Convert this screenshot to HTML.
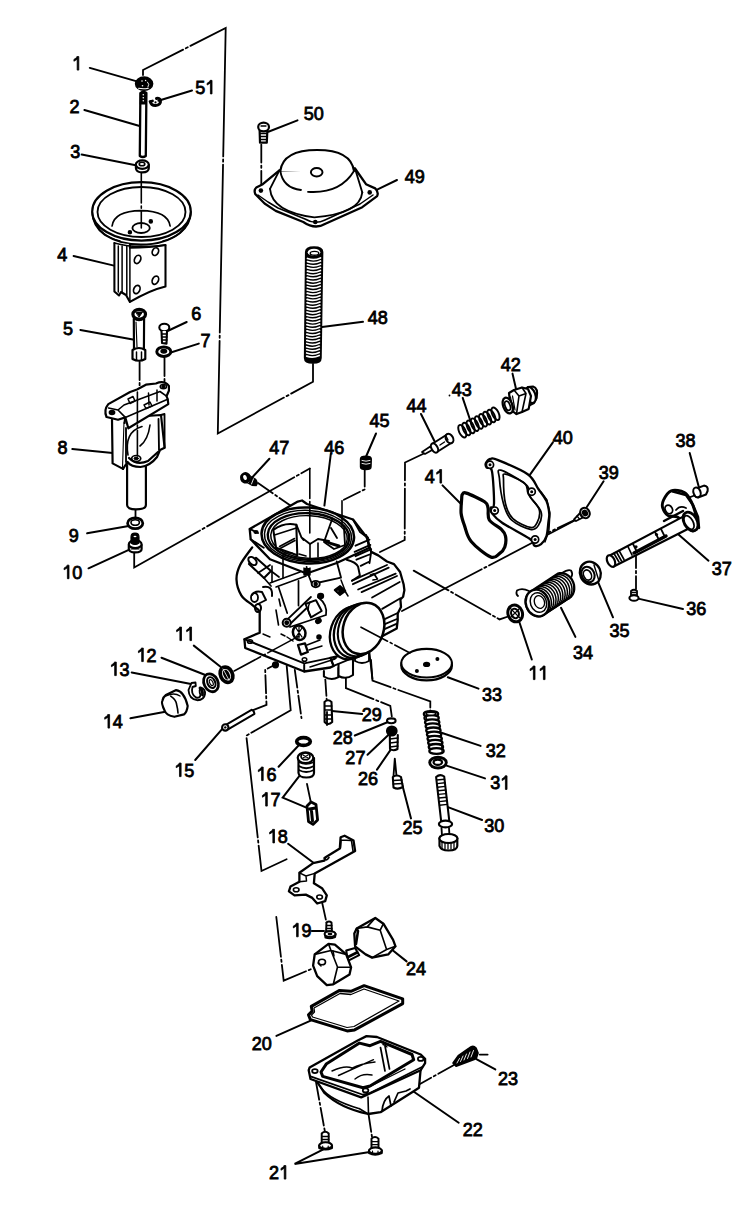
<!DOCTYPE html>
<html><head><meta charset="utf-8"><style>
html,body{margin:0;padding:0;background:#fff;}
svg{display:block;}
text{font-family:"Liberation Sans",sans-serif;font-size:18.9px;fill:#000;stroke:#000;stroke-width:0.85px;}
</style></head><body>
<svg width="743" height="1207" viewBox="0 0 743 1207" stroke-linecap="round">
<rect width="743" height="1207" fill="#fff"/>
<path d="M143.0,75.0 L143.0,70.0 L225.7,28.0 L217.8,433.5 L313.0,381.8 L313.0,364.0" fill="none" stroke="#000" stroke-width="1.8" stroke-dasharray="168 3 2.2 3"  stroke-dashoffset="118"/>
<path d="M134.2,553.0 L134.2,567.5 L309.8,468.5" fill="none" stroke="#000" stroke-width="1.8" stroke-dasharray="100 3 2.2 3"  stroke-dashoffset="10"/>
<path d="M364.7,468.5 L364.7,489.4 L342.0,500.7" fill="none" stroke="#000" stroke-width="1.8" stroke-dasharray="18 3 2.2 3" />
<path d="M425.0,453.0 L405.0,462.5 L404.7,540.0 L380.0,552.0" fill="none" stroke="#000" stroke-width="1.8" stroke-dasharray="40 3 2.2 3" />
<path d="M402.0,611.0 L585.3,515.0" fill="none" stroke="#000" stroke-width="1.8" stroke-dasharray="100 3 2.2 3"  stroke-dashoffset="10"/>
<path d="M413.7,570.6 L499.5,619.4 L509.6,616.0" fill="none" stroke="#000" stroke-width="1.8" stroke-dasharray="40 3 2.2 3" />
<path d="M371.0,660.0 L372.5,680.7 L430.3,701.5 L430.3,711.8" fill="none" stroke="#000" stroke-width="1.8" stroke-dasharray="40 3 2.2 3" />
<path d="M345.9,677.8 L345.9,688.1 L390.3,705.9 L391.8,716.3" fill="none" stroke="#000" stroke-width="1.8" stroke-dasharray="40 3 2.2 3" />
<path d="M325.2,677.8 L326.7,700.0" fill="none" stroke="#000" stroke-width="1.8" stroke-dasharray="18 3 2.2 3" />
<path d="M253.0,710.2 L266.5,704.8 L265.2,669.8 L273.0,665.8" fill="none" stroke="#000" stroke-width="1.8" stroke-dasharray="18 3 2.2 3" />
<path d="M286.7,665.8 L290.7,710.2 L246.3,735.7 L261.5,871.0 L286.6,859.2" fill="none" stroke="#000" stroke-width="1.8" stroke-dasharray="100 3 2.2 3"  stroke-dashoffset="10"/>
<path d="M294.8,669.8 L301.5,718.2" fill="none" stroke="#000" stroke-width="1.8" stroke-dasharray="18 3 2.2 3" />
<path d="M307.0,784.0 L311.0,803.0" fill="none" stroke="#000" stroke-width="1.8" stroke-dasharray="18 3 2.2 3" />
<path d="M276.3,917.0 L283.7,980.6 L311.8,968.8" fill="none" stroke="#000" stroke-width="1.8" stroke-dasharray="40 3 2.2 3" />
<path d="M322.0,902.0 L326.6,922.9" fill="none" stroke="#000" stroke-width="1.8" stroke-dasharray="18 3 2.2 3" />
<path d="M258.0,483.0 L290.4,505.6" fill="none" stroke="#000" stroke-width="1.8" stroke-dasharray="18 3 2.2 3" />
<path d="M261.3,144.6 L261.3,186.6" fill="none" stroke="#000" stroke-width="1.8" stroke-dasharray="18 3 2.2 3" />
<path d="M139.6,362.0 L139.6,395.0" fill="none" stroke="#000" stroke-width="1.8" stroke-dasharray="18 3 2.2 3" />
<path d="M164.5,358.0 L164.5,385.0" fill="none" stroke="#000" stroke-width="1.8" stroke-dasharray="18 3 2.2 3" />
<path d="M636.0,550.0 L636.0,589.0" fill="none" stroke="#000" stroke-width="1.8" stroke-dasharray="18 3 2.2 3" />
<path d="M574.0,520.4 L548.4,532.5" fill="none" stroke="#000" stroke-width="1.8" stroke-dasharray="18 3 2.2 3" />
<path d="M454.0,1065.0 L420.0,1084.0" fill="none" stroke="#000" stroke-width="1.8" stroke-dasharray="18 3 2.2 3" />
<path d="M316.0,1082.0 L324.9,1131.6" fill="none" stroke="#000" stroke-width="1.8" stroke-dasharray="18 3 2.2 3" />
<path d="M368.5,1114.0 L372.1,1137.6" fill="none" stroke="#000" stroke-width="1.8" stroke-dasharray="18 3 2.2 3" />
<path d="M135.5,509.0 L135.5,518.0" fill="none" stroke="#000" stroke-width="1.8" stroke-dasharray="18 3 2.2 3" />
<path d="M688.2,497.8 L694.4,495.5" fill="none" stroke="#000" stroke-width="1.8" stroke-dasharray="18 3 2.2 3" />
<path d="M89.8,67.9 L136.9,81.4" fill="none" stroke="#000" stroke-width="2.0" />
<path d="M192.0,90.5 L158.4,100.8" fill="none" stroke="#000" stroke-width="2.0" />
<path d="M84.4,110.0 L139.6,126.0" fill="none" stroke="#000" stroke-width="2.0" />
<path d="M81.7,154.6 L137.0,165.4" fill="none" stroke="#000" stroke-width="2.0" />
<path d="M73.6,256.0 L114.0,265.6" fill="none" stroke="#000" stroke-width="2.0" />
<path d="M80.4,330.0 L132.9,339.6" fill="none" stroke="#000" stroke-width="2.0" />
<path d="M186.7,322.0 L166.5,331.5" fill="none" stroke="#000" stroke-width="2.0" />
<path d="M198.8,343.6 L169.2,353.0" fill="none" stroke="#000" stroke-width="2.0" />
<path d="M72.3,449.0 L112.7,453.0" fill="none" stroke="#000" stroke-width="2.0" />
<path d="M87.1,533.3 L130.2,525.7" fill="none" stroke="#000" stroke-width="2.0" />
<path d="M88.5,568.3 L131.5,548.6" fill="none" stroke="#000" stroke-width="2.0" />
<path d="M297.5,120.4 L268.4,131.7" fill="none" stroke="#000" stroke-width="2.0" />
<path d="M397.0,180.0 L376.6,189.8" fill="none" stroke="#000" stroke-width="2.0" />
<path d="M363.0,321.8 L322.0,327.0" fill="none" stroke="#000" stroke-width="2.0" />
<path d="M269.4,458.8 L251.7,478.0" fill="none" stroke="#000" stroke-width="2.0" />
<path d="M330.8,454.0 L324.4,505.6" fill="none" stroke="#000" stroke-width="2.0" />
<path d="M376.0,433.5 L366.3,456.0" fill="none" stroke="#000" stroke-width="2.0" />
<path d="M421.0,414.0 L434.4,441.0" fill="none" stroke="#000" stroke-width="2.0" />
<path d="M512.5,373.6 L516.5,391.0" fill="none" stroke="#000" stroke-width="2.0" />
<path d="M462.7,397.9 L470.8,422.0" fill="none" stroke="#000" stroke-width="2.0" />
<path d="M442.5,485.4 L461.3,504.2" fill="none" stroke="#000" stroke-width="2.0" />
<path d="M552.9,442.3 L530.0,474.6" fill="none" stroke="#000" stroke-width="2.0" />
<path d="M689.7,453.0 L699.1,488.0" fill="none" stroke="#000" stroke-width="2.0" />
<path d="M603.6,481.3 L586.0,508.3" fill="none" stroke="#000" stroke-width="2.0" />
<path d="M708.5,560.7 L676.2,532.5" fill="none" stroke="#000" stroke-width="2.0" />
<path d="M683.0,609.0 L637.2,598.4" fill="none" stroke="#000" stroke-width="2.0" />
<path d="M613.0,617.3 L598.2,582.3" fill="none" stroke="#000" stroke-width="2.0" />
<path d="M575.4,636.9 L561.0,607.8" fill="none" stroke="#000" stroke-width="2.0" />
<path d="M531.8,659.5 L518.9,620.7" fill="none" stroke="#000" stroke-width="2.0" />
<path d="M478.5,688.6 L447.8,677.3" fill="none" stroke="#000" stroke-width="2.0" />
<path d="M193.8,645.6 L220.8,667.0" fill="none" stroke="#000" stroke-width="2.0" />
<path d="M161.5,657.7 L206.0,675.2" fill="none" stroke="#000" stroke-width="2.0" />
<path d="M131.7,672.5 L193.6,684.6" fill="none" stroke="#000" stroke-width="2.0" />
<path d="M130.4,718.2 L166.7,711.5" fill="none" stroke="#000" stroke-width="2.0" />
<path d="M195.2,760.0 L223.4,727.7" fill="none" stroke="#000" stroke-width="2.0" />
<path d="M278.6,766.7 L298.8,745.2" fill="none" stroke="#000" stroke-width="2.0" />
<path d="M300.2,774.8 L282.7,797.7 L308.2,808.4" fill="none" stroke="#000" stroke-width="2.0" />
<path d="M362.2,714.0 L332.0,711.0" fill="none" stroke="#000" stroke-width="2.0" />
<path d="M354.8,735.5 L387.4,722.2" fill="none" stroke="#000" stroke-width="2.0" />
<path d="M367.5,754.8 L389.4,734.0" fill="none" stroke="#000" stroke-width="2.0" />
<path d="M377.0,769.6 L393.3,745.9" fill="none" stroke="#000" stroke-width="2.0" />
<path d="M411.0,818.4 L402.2,784.4" fill="none" stroke="#000" stroke-width="2.0" />
<path d="M480.6,745.9 L440.7,732.5" fill="none" stroke="#000" stroke-width="2.0" />
<path d="M485.0,778.4 L445.0,765.1" fill="none" stroke="#000" stroke-width="2.0" />
<path d="M482.1,820.0 L446.6,806.6" fill="none" stroke="#000" stroke-width="2.0" />
<path d="M288.1,843.8 L314.8,863.7" fill="none" stroke="#000" stroke-width="2.0" />
<path d="M311.8,931.0 L324.0,931.0" fill="none" stroke="#000" stroke-width="2.0" />
<path d="M406.6,961.4 L391.7,949.5" fill="none" stroke="#000" stroke-width="2.0" />
<path d="M276.4,1035.9 L310.7,1020.6" fill="none" stroke="#000" stroke-width="2.0" />
<path d="M458.7,1122.7 L413.5,1091.5" fill="none" stroke="#000" stroke-width="2.0" />
<path d="M495.3,1069.4 L476.8,1059.4" fill="none" stroke="#000" stroke-width="2.0" />
<path d="M322.9,1149.7 L294.6,1163.9 L371.3,1151.8" fill="none" stroke="#000" stroke-width="2.0" />
<g fill="none" stroke="#000" stroke-width="1.95" stroke-linejoin="round">
<!-- part 1 nut -->
<ellipse cx="144.1" cy="83.7" rx="8.6" ry="6.7" fill="#000" stroke-width="1.38"/>
<path d="M138.6,88.3 Q143.5,89.3 148.3,88.2" stroke="#fff" stroke-width="1.1"/>
<path d="M147.5,82 Q150,84 148,87" stroke="#fff" stroke-width="0.9"/>
<circle cx="142" cy="81" r="0.8" fill="#fff" stroke="none"/>
<circle cx="142.5" cy="85.8" r="0.8" fill="#fff" stroke="none"/>
<circle cx="145.6" cy="80.5" r="0.7" fill="#fff" stroke="none"/>
<!-- part 2 rod -->
<path d="M140.4,93 Q143.3,90.5 146.4,93 L145.8,156 Q142.8,158 139.8,156 Z" fill="#fff" stroke-width="2.30"/>
<path d="M140.4,92.5 L146.4,92.5 L146.3,104 L140.3,104 Z" fill="#000" stroke-width="1.15"/>
<circle cx="143.3" cy="94.8" r="0.8" fill="#fff" stroke="none"/>
<circle cx="143.3" cy="97.8" r="0.8" fill="#fff" stroke="none"/>
<circle cx="143.3" cy="100.8" r="0.8" fill="#fff" stroke="none"/>
<!-- part 51 clip -->
<path d="M150.5,102 Q151,105.5 155.5,105.5 Q161,105 160.5,100.5 Q159.5,97.5 156.5,98.5" stroke-width="2.99"/>
<path d="M150,101.5 L152.5,101" stroke-width="2.76"/>
<circle cx="155.5" cy="102.3" r="1.1" fill="#000" stroke="none"/>
<!-- part 3 nut -->
<path d="M135.9,165 L135.9,168 Q136,172.4 142.3,172.4 Q148.8,172.4 148.8,168 L148.8,165" fill="#fff" stroke-width="2.18"/>
<ellipse cx="142.3" cy="164.6" rx="6.5" ry="4.2" fill="#fff" stroke-width="2.18"/>
<ellipse cx="142" cy="164" rx="2.8" ry="1.8" stroke-width="1.61"/>
<!-- diaphragm 4 -->
<path d="M92.5,212 Q92.5,226 105,235 Q120,244.6 141,244.6 Q165,244.6 180,233 Q190.7,224 190.7,212" fill="#fff" stroke-width="2.07"/>
<ellipse cx="141.5" cy="211.4" rx="49.3" ry="29.2" fill="#fff" stroke-width="2.18"/>
<ellipse cx="141.5" cy="212" rx="44" ry="25" stroke-width="1.84"/>
<path d="M94,220 Q100,236 120,241 M163,241 Q183,236 189,220" stroke-width="1.49"/>
<path d="M112.1,226 Q114,211 141,210.6 Q168,211 170.1,226" stroke-width="1.72"/>
<ellipse cx="141.1" cy="228" rx="8.7" ry="5" stroke-width="1.84"/>
<circle cx="150.8" cy="221.4" r="1.3" fill="#000"/>
<circle cx="129.9" cy="232.3" r="1.3" fill="#000"/>
<!-- bracket -->
<path d="M114.4,243 L114.4,291.5 L119,295.5 L121,292 L126,295 L129.9,301.9 Q150,290 165.5,286.4 L165.5,245 Q150,247.7 129.9,247.7 L129.9,244" fill="#fff" stroke-width="2.07"/>
<path d="M118.3,246 L118.3,292 M122.1,246 L122.1,292 M126.8,246 L126.8,295 M129.9,247.7 L129.9,301.9" stroke-width="1.49"/>
<path d="M114.4,243 Q135,249 165.5,245" stroke-width="1.72"/>
<ellipse cx="137.6" cy="259.4" rx="3" ry="4.3" transform="rotate(25 137.6 259.4)" stroke-width="1.72"/>
<ellipse cx="155.4" cy="251.6" rx="3" ry="4" transform="rotate(25 155.4 251.6)" stroke-width="1.72"/>
<ellipse cx="155.4" cy="280.2" rx="3" ry="4.3" transform="rotate(25 155.4 280.2)" stroke-width="1.72"/>
<ellipse cx="136.8" cy="289.5" rx="3" ry="4.3" transform="rotate(25 136.8 289.5)" stroke-width="1.72"/>
</g>

<g fill="none" stroke="#000" stroke-width="1.95" stroke-linejoin="round">
<!-- part 5 bolt -->
<path d="M133.8,319 L134,349 M144.1,319 L143.9,349" stroke-width="2.18"/>
<path d="M136,322 L137,347" stroke-width="1.15"/>
<ellipse cx="139.2" cy="314.3" rx="6.3" ry="5" fill="#fff" stroke-width="3.22"/>
<path d="M136,312 L142.5,312 L139.2,317 Z" fill="#000" stroke="#000" stroke-width="0.92"/>
<path d="M134,318.5 Q139,321.5 144,318.5" stroke-width="2.30"/>
<path d="M132.5,350 Q139,346 145.3,350 L145.3,359 Q139,362.5 132.5,359 Z" fill="#fff" stroke-width="2.18"/>
<path d="M136.5,352 L136.5,360 M141.5,352 L141.5,360" stroke-width="1.49"/>
<!-- part 6 screw -->
<ellipse cx="164.3" cy="327.5" rx="5" ry="3.8" fill="#fff" stroke-width="2.07"/>
<path d="M161.5,331 L162,343 L166.5,343.6 L167,331" fill="#fff" stroke-width="2.07"/>
<path d="M162,334 L167,334 M162,337 L167,337 M162,340 L167,340" stroke-width="1.38"/>
<!-- part 7 washer -->
<ellipse cx="163.8" cy="351.7" rx="7" ry="4.8" fill="#fff" stroke-width="2.99"/>
<ellipse cx="163.8" cy="351.2" rx="2.8" ry="1.8" fill="#000" stroke-width="1.38"/>
<!-- part 8 slide -->
<path d="M127.1,465 L127.1,505 Q127,509.4 136,509.4 Q145.9,509.4 145.9,505 L145.9,465" fill="#fff" stroke-width="2.18"/>
<path d="M112,419.8 L112.6,463.4 L123,468.9 L124.5,423" fill="#fff" stroke-width="2.18"/>
<path d="M124.5,423 L125.3,417.4 L161,415 L164.6,447.7 L160,450 L157,457 Q150,466 140.5,467 Q131,467 127.5,462 L123,468.9" fill="#fff" stroke-width="2.18"/>
<path d="M126,428 L126,462 M158.5,419 L159,450 M161,415 L164.5,414 L164.6,447.7" stroke-width="1.84"/>
<path d="M128,455 Q124,432 142,426.5 M140,446 Q148,440 150,425" stroke-width="1.61"/>
<path d="M129,458 Q137,466 148,461 L158,452" stroke-width="2.30"/>
<ellipse cx="136.2" cy="458.5" rx="4.5" ry="3" stroke-width="1.72"/>
<ellipse cx="136.2" cy="458.5" rx="2.2" ry="1.4" fill="#000" stroke-width="0.92"/>
<path d="M108.3,404.1 L130.1,392 L137,389.5 L145.9,384.7 L156,383.5 Q164,380 168.9,385.9 L168.9,390.7 L166.5,396.2 L167.7,399.2 L168.3,404.1 L128.3,428.3 L125.3,417.4 L118,419.8 L106.5,417 Q103.5,410 108.3,404.1 Z" fill="#fff" stroke-width="2.18"/>
<path d="M125.3,417.4 L167.7,399.2 M118,410 L125.3,417.4 M108.5,408 L118,410 L124,405 L132,402 L160,391.5 L166.5,396.2" stroke-width="1.61"/>
<path d="M128,399 L133,396.5 L135,401 L130,403.5 Z M144,405 L150,402 L152,406 L146,408.5 Z" stroke-width="1.49"/>
<path d="M148.5,393 L149,405 M157,390 L157,401" stroke-width="1.49"/>
<ellipse cx="112" cy="412.5" rx="2.4" ry="1.8" fill="#000"/>
<ellipse cx="163.4" cy="386.6" rx="3.2" ry="2.2" stroke-width="1.49"/>
<ellipse cx="163.4" cy="386.6" rx="1.2" ry="0.8" fill="#000"/>
<!-- part 9 washer -->
<ellipse cx="135.2" cy="523.3" rx="7.6" ry="5.4" fill="#fff" stroke-width="2.76"/>
<ellipse cx="135.2" cy="522.5" rx="4.2" ry="2.8" stroke-width="1.61"/>
<!-- part 10 screw -->
<path d="M128.8,545 L128.8,549 Q129,552.4 135.2,552.4 Q141.6,552.4 141.6,549 L141.6,545" fill="#fff" stroke-width="2.18"/>
<ellipse cx="135.2" cy="544.2" rx="6.4" ry="4" fill="#fff" stroke-width="2.18"/>
<path d="M131,543 L131,537 Q131,533.1 135,533.1 Q139,533.1 139,537 L139,543 Q135,546 131,543 Z" fill="#000" stroke-width="1.15"/>
<ellipse cx="135" cy="536.5" rx="1.5" ry="0.8" fill="#fff" stroke="none"/>
<path d="M131,549 L139,549" stroke-width="1.15"/>
</g>

<g fill="none" stroke="#000" stroke-width="1.95" stroke-linejoin="round">
<path d="M259.6,130 L260,142.7 L266.8,142.7 L267.4,130" fill="#fff" stroke-width="2.18"/>
<path d="M260,133.5 L267,133.5 M260,136.5 L267,136.5 M260,139.5 L267,139.5" stroke-width="1.49"/>
<ellipse cx="263.6" cy="127" rx="5.4" ry="4.4" fill="#fff" stroke-width="2.18"/>
<path d="M261,126 L266,126" stroke-width="1.26"/>
<path d="M256.3,187.5 L262.8,184.2 L279.4,170.3 L355,168.5 L366,184.2 L375.2,188.4 Q379,192 377.1,196.1 L362.3,207.2 L325.4,223.8 Q315,230 303.3,222 L275.7,210.9 L264.6,203.5 L255.4,194.3 Q253.5,190 256.3,187.5 Z" fill="#fff" stroke-width="2.30"/>
<path d="M258,195 L268,202 L278,208 L305,219 Q315,225 325,220 L360,204 L373,195" stroke-width="1.49"/>
<path d="M270,188.8 Q272,212 314.4,217.3 Q360,214 362.3,192.4" stroke-width="1.84"/>
<path d="M279.4,170.3 L270,188.8 M355,168.5 L362.3,192.4" stroke-width="1.84"/>
<path d="M280.3,171 Q283,150 317.2,150 Q351,150 354,171" fill="#fff" stroke-width="2.07"/>
<path d="M280.3,171 Q283,188 301,190 M308,191.8 Q340,194 354,171" stroke-width="1.84"/>
<path d="M280.3,171 L354,171" stroke="#fff" stroke-width="0"/>
<ellipse cx="316.7" cy="172.2" rx="5.8" ry="4.3" fill="#fff" stroke-width="1.95"/>
<circle cx="260.9" cy="190.6" r="2.3" fill="#000" stroke="none"/>
<circle cx="369.7" cy="192.4" r="2.3" fill="#000" stroke="none"/>
<circle cx="315.3" cy="222" r="2.3" fill="#000" stroke="none"/>
<path d="M305.8,252 Q305.8,247 314,247 Q322.5,247 322.5,252 L320.9,358 Q320.9,363 313,363 Q304.7,363 304.7,358 Z" fill="#000" stroke-width="1.72"/>
<ellipse cx="314" cy="252.3" rx="6.3" ry="3.6" fill="#fff" stroke="none"/>
<ellipse cx="314.5" cy="253.3" rx="4.3" ry="1.9" stroke="#000" stroke-width="1.38"/>
<path d="M307.5,258.5 Q314.0,260.9 320.5,257.9" stroke="#fff" stroke-width="1.7"/>
<path d="M307.5,261.6 Q314.0,264.0 320.5,261.0" stroke="#fff" stroke-width="1.7"/>
<path d="M307.4,264.8 Q314.0,267.2 320.5,264.2" stroke="#fff" stroke-width="1.7"/>
<path d="M307.4,267.9 Q313.9,270.3 320.4,267.3" stroke="#fff" stroke-width="1.7"/>
<path d="M307.4,271.1 Q313.9,273.5 320.4,270.5" stroke="#fff" stroke-width="1.7"/>
<path d="M307.4,274.2 Q313.8,276.6 320.3,273.6" stroke="#fff" stroke-width="1.7"/>
<path d="M307.3,277.4 Q313.8,279.8 320.3,276.8" stroke="#fff" stroke-width="1.7"/>
<path d="M307.3,280.5 Q313.8,282.9 320.2,279.9" stroke="#fff" stroke-width="1.7"/>
<path d="M307.3,283.7 Q313.7,286.1 320.2,283.1" stroke="#fff" stroke-width="1.7"/>
<path d="M307.3,286.8 Q313.7,289.2 320.2,286.2" stroke="#fff" stroke-width="1.7"/>
<path d="M307.2,290.0 Q313.7,292.4 320.1,289.4" stroke="#fff" stroke-width="1.7"/>
<path d="M307.2,293.1 Q313.6,295.5 320.1,292.5" stroke="#fff" stroke-width="1.7"/>
<path d="M307.2,296.3 Q313.6,298.7 320.0,295.7" stroke="#fff" stroke-width="1.7"/>
<path d="M307.1,299.4 Q313.6,301.8 320.0,298.8" stroke="#fff" stroke-width="1.7"/>
<path d="M307.1,302.6 Q313.5,305.0 319.9,302.0" stroke="#fff" stroke-width="1.7"/>
<path d="M307.1,305.7 Q313.5,308.1 319.9,305.1" stroke="#fff" stroke-width="1.7"/>
<path d="M307.1,308.9 Q313.5,311.3 319.8,308.3" stroke="#fff" stroke-width="1.7"/>
<path d="M307.0,312.0 Q313.4,314.4 319.8,311.4" stroke="#fff" stroke-width="1.7"/>
<path d="M307.0,315.2 Q313.4,317.6 319.8,314.6" stroke="#fff" stroke-width="1.7"/>
<path d="M307.0,318.3 Q313.4,320.7 319.7,317.7" stroke="#fff" stroke-width="1.7"/>
<path d="M307.0,321.5 Q313.3,323.9 319.7,320.9" stroke="#fff" stroke-width="1.7"/>
<path d="M306.9,324.6 Q313.3,327.0 319.6,324.0" stroke="#fff" stroke-width="1.7"/>
<path d="M306.9,327.8 Q313.2,330.2 319.6,327.2" stroke="#fff" stroke-width="1.7"/>
<path d="M306.9,330.9 Q313.2,333.3 319.5,330.3" stroke="#fff" stroke-width="1.7"/>
<path d="M306.8,334.1 Q313.2,336.5 319.5,333.5" stroke="#fff" stroke-width="1.7"/>
<path d="M306.8,337.2 Q313.1,339.6 319.5,336.6" stroke="#fff" stroke-width="1.7"/>
<path d="M306.8,340.4 Q313.1,342.8 319.4,339.8" stroke="#fff" stroke-width="1.7"/>
<path d="M306.8,343.5 Q313.1,345.9 319.4,342.9" stroke="#fff" stroke-width="1.7"/>
<path d="M306.7,346.7 Q313.0,349.1 319.3,346.1" stroke="#fff" stroke-width="1.7"/>
<path d="M306.7,349.8 Q313.0,352.2 319.3,349.2" stroke="#fff" stroke-width="1.7"/>
<path d="M306.7,353.0 Q313.0,355.4 319.2,352.4" stroke="#fff" stroke-width="1.7"/>
<path d="M306.7,356.1 Q312.9,358.5 319.2,355.5" stroke="#fff" stroke-width="1.7"/>
</g>
<g fill="none" stroke="#000" stroke-width="1.95" stroke-linejoin="round">
<path d="M247,474.5 L255.5,479.5 Q258,483 256,485.4 L252,485 L245,481" fill="#000" stroke-width="1.84"/>
<path d="M250.5,477 L248.5,482.5 M253.5,478.8 L251.5,484" stroke="#fff" stroke-width="0.9"/>
<ellipse cx="245.5" cy="477.8" rx="4.6" ry="4.8" fill="#000" stroke-width="1.84" transform="rotate(-20 245.5 477.8)"/>
<ellipse cx="245" cy="477.5" rx="1.8" ry="2.6" fill="#fff" stroke="none" transform="rotate(-20 245 477.5)"/>
<path d="M360.5,459 Q360.5,456.2 365.8,456.2 Q371.3,456.2 371.3,459 L371,467 Q371,469.5 365.8,469.5 Q360.5,469.5 360.5,467 Z" fill="#000" stroke-width="1.38"/>
<path d="M362,460.5 Q366,462 370,460.5 M362,463.5 Q366,465 370,463.5" stroke="#fff" stroke-width="0.9"/>
<path d="M422,452 L431,446 L434,449 L425,454 Z" fill="#fff" stroke-width="1.72"/>
<path d="M432,444 L447,434.5 L452,442.5 L437,452 Z" fill="#fff" stroke-width="2.07"/>
<ellipse cx="434.5" cy="448" rx="3" ry="5" fill="#fff" stroke-width="2.07" transform="rotate(-30 434.5 448)"/>
<ellipse cx="449.5" cy="438.5" rx="3.5" ry="5" fill="#fff" stroke-width="2.07" transform="rotate(-30 449.5 438.5)"/>
<path d="M440,445 L444.5,442 M446,436 L448,440" stroke-width="1.38"/>
<ellipse cx="462.3" cy="431.2" rx="3.2" ry="6.8" stroke-width="1.95" transform="rotate(-25 462.3 431.2)"/>
<ellipse cx="466.4" cy="429.0" rx="3.2" ry="6.8" stroke-width="1.95" transform="rotate(-25 466.4 429.0)"/>
<ellipse cx="470.6" cy="426.9" rx="3.2" ry="6.8" stroke-width="1.95" transform="rotate(-25 470.6 426.9)"/>
<ellipse cx="474.8" cy="424.7" rx="3.2" ry="6.8" stroke-width="1.95" transform="rotate(-25 474.8 424.7)"/>
<ellipse cx="478.9" cy="422.5" rx="3.2" ry="6.8" stroke-width="1.95" transform="rotate(-25 478.9 422.5)"/>
<ellipse cx="483.1" cy="420.3" rx="3.2" ry="6.8" stroke-width="1.95" transform="rotate(-25 483.1 420.3)"/>
<ellipse cx="487.2" cy="418.1" rx="3.2" ry="6.8" stroke-width="1.95" transform="rotate(-25 487.2 418.1)"/>
<ellipse cx="491.4" cy="416.0" rx="3.2" ry="6.8" stroke-width="1.95" transform="rotate(-25 491.4 416.0)"/>
<ellipse cx="495.5" cy="413.8" rx="3.2" ry="6.8" stroke-width="1.95" transform="rotate(-25 495.5 413.8)"/>
<path d="M528,387 L533,386.5 Q538.5,388 536.6,398 L534,403 L526,407 Z" fill="#fff" stroke-width="2.18"/>
<ellipse cx="530.5" cy="395" rx="4.8" ry="8.3" fill="#fff" stroke-width="2.18" transform="rotate(-20 530.5 395)"/>
<path d="M509,393 L514,390 L522,387.5 L528,389 L531,396 L528.7,408.9 L522,412 L516.5,414.1 L511,410 Z" fill="#fff" stroke-width="2.18"/>
<path d="M514,390 L519,396 L516.5,414.1 M522,387.5 L526,393.5 L522,412 M519,396 L526,393.5" stroke-width="1.61"/>
<ellipse cx="507.8" cy="405.5" rx="4.6" ry="8.2" fill="#fff" stroke-width="2.30" transform="rotate(-20 507.8 405.5)"/>
<ellipse cx="507.6" cy="405.8" rx="2.5" ry="4.8" stroke-width="1.72" transform="rotate(-20 507.6 405.8)"/>
<path d="M510.5,397 L513,411 M512.5,396 L515,410" stroke-width="1.26"/>
</g>
<g fill="none" stroke="#000" stroke-width="1.95" stroke-linejoin="round">
<path d="M462.4,494.4 C463.2,493.5 462.7,491.9 466.4,493.1 C470.1,494.3 481.0,499.3 484.6,501.8 C488.2,504.3 487.2,504.9 488.0,507.9 C488.8,510.9 487.1,516.4 489.3,520.0 C491.5,523.6 498.7,526.7 501.4,529.4 C504.1,532.1 504.9,533.2 505.5,536.1 C506.1,539.0 505.8,544.0 504.8,546.9 C503.8,549.8 501.8,551.9 499.4,553.6 C497.0,555.3 495.4,559.0 490.7,557.0 C486.0,555.0 475.6,546.8 471.2,541.5 C466.8,536.2 466.1,530.1 464.4,525.4 C462.7,520.7 461.6,517.8 461.1,513.3 C460.7,508.8 461.5,501.6 461.7,498.5 C461.9,495.4 461.6,495.3 462.4,494.4 Z" fill="none" stroke-width="3.22"/>
<path d="M486.0,462.8 C486.8,461.3 489.3,459.1 491.3,458.7 C493.3,458.2 492.0,457.5 498.1,460.1 C504.2,462.7 521.0,469.4 527.7,474.2 C534.4,479.0 535.3,484.5 538.4,489.0 C541.5,493.5 544.7,497.1 546.5,501.1 C548.3,505.2 548.9,509.9 549.2,513.3 C549.5,516.7 549.0,517.5 548.5,521.3 C548.0,525.1 547.7,532.3 546.5,536.1 C545.3,539.9 543.1,542.6 541.1,544.2 C539.1,545.8 536.3,546.5 534.4,545.6 C532.5,544.7 535.1,542.6 529.7,538.8 C524.3,535.0 508.4,527.0 502.1,522.7 C495.8,518.5 493.9,515.8 492.0,513.3 C490.1,510.8 490.4,509.5 490.7,507.9 C491.0,506.3 493.8,509.9 494.0,503.8 C494.2,497.7 493.2,477.6 492.0,471.5 C490.8,465.4 487.6,468.9 486.6,467.5 C485.6,466.1 485.2,464.3 486.0,462.8 Z" fill="#fff" stroke-width="2.30"/>
<path d="M500.8,470.2 C505.3,471.3 521.4,480.5 526.3,485.0 C531.2,489.5 527.9,492.6 530.4,497.1 C532.9,501.6 539.8,507.2 541.1,511.9 C542.4,516.6 540.2,522.5 538.4,525.4 C536.6,528.3 534.9,530.3 530.4,529.4 C525.9,528.5 516.0,524.3 511.5,520.0 C507.0,515.7 505.5,510.8 503.5,503.8 C501.5,496.9 499.8,483.9 499.4,478.3 C498.9,472.7 496.3,469.1 500.8,470.2 Z" fill="none" stroke-width="1.72"/>
<path d="M505.5,474.2 C509.1,474.9 521.2,480.2 525.0,483.6 C528.8,487.0 526.0,490.1 528.4,494.4 C530.8,498.7 537.6,504.5 539.1,509.2 C540.6,513.9 538.6,519.7 537.1,522.7 C535.6,525.7 534.4,528.1 530.4,527.4 C526.4,526.7 517.0,522.5 512.9,518.6 C508.8,514.7 507.1,510.3 505.5,503.8 C503.9,497.3 503.5,484.5 503.5,479.6 C503.5,474.7 501.9,473.5 505.5,474.2 Z" fill="none" stroke-width="1.72"/>
<path d="M541,492 L547,500 L550,513 L549,530 L545,542" stroke-width="1.38"/>
<circle cx="490" cy="464.8" r="3.6" fill="#fff" stroke-width="1.72"/>
<circle cx="490" cy="464.8" r="1.5" fill="#000" stroke="none"/>
<circle cx="531.7" cy="491.7" r="3.6" fill="#fff" stroke-width="1.72"/>
<circle cx="531.7" cy="491.7" r="1.5" fill="#000" stroke="none"/>
<circle cx="494.7" cy="510.6" r="3.6" fill="#fff" stroke-width="1.72"/>
<circle cx="494.7" cy="510.6" r="1.5" fill="#000" stroke="none"/>
<circle cx="535.1" cy="539.5" r="3.6" fill="#fff" stroke-width="1.72"/>
<circle cx="535.1" cy="539.5" r="1.5" fill="#000" stroke="none"/>
<path d="M574,519.4 L582,511 L587,515.5 L576,521 Z" fill="#fff" stroke-width="1.84"/>
<path d="M577,516 L579.5,519 M579.5,514 L582,517.5" stroke-width="1.26"/>
<ellipse cx="585" cy="513" rx="4.5" ry="5.3" fill="#fff" stroke-width="2.18" transform="rotate(-30 585 513)"/>
<ellipse cx="585" cy="513" rx="3" ry="3.6" fill="#000" stroke="none" transform="rotate(-30 585 513)"/>
<path d="M695,489 L704,485.6 Q708.5,486 707.6,491 L706,494.5 L698,497.5 Q694,497 694.4,492 Z" fill="#fff" stroke-width="2.07"/>
<ellipse cx="697" cy="492.3" rx="3.5" ry="5" fill="#fff" stroke-width="2.07" transform="rotate(-20 697 492.3)"/>
<path d="M663.5,500.1 C664.9,497.2 667.7,492.1 671.2,490.8 C674.7,489.5 681.0,490.6 684.4,492.4 C687.8,494.2 689.4,497.8 691.3,501.7 C693.2,505.6 695.0,511.5 696.0,515.6 C697.0,519.7 698.0,523.8 697.5,526.4 C697.0,529.0 694.7,531.0 692.9,531.0 C691.1,531.0 689.3,528.7 686.7,526.4 C684.1,524.1 680.5,518.9 677.4,517.1 C674.3,515.3 670.5,517.1 668.1,515.6 C665.7,514.1 663.5,510.5 662.7,507.9 C661.9,505.3 662.1,503.0 663.5,500.1 Z" fill="#fff" stroke-width="2.88"/>
<path d="M673,491.5 L686,495 L693,505 L698,517 L699,528" stroke-width="2.53"/>
<ellipse cx="668.8" cy="509.4" rx="3.5" ry="4.5" fill="#fff" stroke-width="1.84" transform="rotate(-30 668.8 509.4)"/>
<path d="M676,510 Q680,505 686,508" stroke-width="1.72"/>
<path d="M609.3,555.8 L683.6,516.4 L689.8,528 L613.2,566.7 Z" fill="#fff" stroke-width="2.18"/>
<ellipse cx="690.5" cy="521.5" rx="6.5" ry="10" fill="#fff" stroke-width="2.76" transform="rotate(-30 690.5 521.5)"/>
<ellipse cx="689" cy="522.5" rx="4" ry="7.5" fill="#fff" stroke-width="1.72" transform="rotate(-30 689 522.5)"/>
<ellipse cx="611" cy="561" rx="3.6" ry="6.2" fill="#fff" stroke-width="2.18" transform="rotate(-27 611 561)"/>
<path d="M614,553.5 L619,562 M616.5,552 L621.5,561 M619,550.5 L624,559.5" stroke-width="1.61"/>
<path d="M627.9,546.5 L632,555 M633,544 L637,552 M655,532 L659,540 M661,529 L665,537" stroke-width="1.72"/>
<path d="M634,553 L666,536" stroke-width="3.45"/>
<circle cx="636" cy="546.8" r="1.6" fill="#000" stroke="none"/>
<circle cx="656.5" cy="534.5" r="1.6" fill="#000" stroke="none"/>
<path d="M664,521 L683,511" stroke-width="2.53"/>
<path d="M631,598 L631,591 Q634,588.5 637,591 L637,598" fill="#fff" stroke-width="1.84"/>
<ellipse cx="634" cy="598" rx="4.6" ry="2.8" fill="#fff" stroke-width="2.07"/>
<path d="M632,592.5 L636,592.5 M632,595 L636,595" stroke-width="1.26"/>
<ellipse cx="590.3" cy="573.1" rx="10.3" ry="11.6" fill="#fff" stroke-width="2.30" transform="rotate(-25 590.3 573.1)"/>
<ellipse cx="588" cy="574.5" rx="6.3" ry="8" fill="#fff" stroke-width="2.07" transform="rotate(-25 588 574.5)"/>
<ellipse cx="587.5" cy="575" rx="3.8" ry="5.3" stroke-width="1.61" transform="rotate(-25 587.5 575)"/>
<path d="M594,565 L599,581" stroke-width="1.38"/>
<path d="M542.1,615.8 L540.1,616.3 L538.1,616.4 L536.0,616.0 L534.0,615.3 L532.1,614.2 L530.4,612.8 L528.8,611.1 L527.6,609.1 L526.6,606.9 L525.9,604.7 L525.7,602.3 L525.7,600.0 L526.1,597.8 L526.9,595.7 L528.0,593.9 L529.3,592.3 L530.9,591.1 L532.7,590.2 L557.8,573.7 L559.8,573.2 L561.8,573.1 L563.9,573.5 L565.9,574.2 L567.8,575.3 L569.5,576.7 L571.1,578.4 L572.3,580.4 L573.3,582.6 L574.0,584.8 L574.2,587.2 L574.2,589.5 L573.8,591.7 L573.0,593.8 L571.9,595.6 L570.6,597.2 L569.0,598.4 L567.2,599.3 Z" fill="#fff" stroke="#000" stroke-width="2.30"/>
<path d="M535.0,588.7 L537.0,588.2 L539.0,588.1 L541.1,588.5 L543.1,589.2 L545.0,590.3 L546.7,591.7 L548.2,593.4 L549.5,595.4 L550.5,597.6 L551.1,599.8 L551.4,602.2 L551.4,604.5 L550.9,606.7 L550.2,608.8 L549.1,610.6 L547.7,612.2 L546.1,613.4 L544.3,614.3" stroke-width="1.49"/>
<path d="M537.3,587.2 L539.3,586.7 L541.3,586.6 L543.3,587.0 L545.3,587.7 L547.3,588.8 L549.0,590.2 L550.5,591.9 L551.8,593.9 L552.8,596.1 L553.4,598.3 L553.7,600.7 L553.6,603.0 L553.2,605.2 L552.5,607.3 L551.4,609.1 L550.0,610.7 L548.4,611.9 L546.6,612.8" stroke-width="1.49"/>
<path d="M539.6,585.7 L541.5,585.2 L543.6,585.1 L545.6,585.5 L547.6,586.2 L549.5,587.3 L551.3,588.7 L552.8,590.4 L554.1,592.4 L555.1,594.6 L555.7,596.8 L556.0,599.2 L555.9,601.5 L555.5,603.7 L554.8,605.8 L553.7,607.6 L552.3,609.2 L550.7,610.4 L548.9,611.3" stroke-width="1.49"/>
<path d="M541.9,584.2 L543.8,583.7 L545.9,583.6 L547.9,584.0 L549.9,584.7 L551.8,585.8 L553.6,587.2 L555.1,588.9 L556.4,590.9 L557.3,593.1 L558.0,595.3 L558.3,597.7 L558.2,600.0 L557.8,602.2 L557.0,604.3 L556.0,606.1 L554.6,607.7 L553.0,608.9 L551.2,609.8" stroke-width="1.49"/>
<path d="M544.2,582.7 L546.1,582.2 L548.1,582.1 L550.2,582.5 L552.2,583.2 L554.1,584.3 L555.8,585.7 L557.4,587.4 L558.6,589.4 L559.6,591.6 L560.3,593.8 L560.6,596.2 L560.5,598.5 L560.1,600.7 L559.3,602.8 L558.2,604.6 L556.9,606.2 L555.3,607.4 L553.5,608.3" stroke-width="1.49"/>
<path d="M546.4,581.2 L548.4,580.7 L550.4,580.6 L552.5,581.0 L554.5,581.7 L556.4,582.8 L558.1,584.2 L559.7,585.9 L560.9,587.9 L561.9,590.1 L562.5,592.3 L562.8,594.7 L562.8,597.0 L562.4,599.2 L561.6,601.3 L560.5,603.1 L559.2,604.7 L557.5,605.9 L555.7,606.8" stroke-width="1.49"/>
<path d="M548.7,579.7 L550.7,579.2 L552.7,579.1 L554.7,579.5 L556.8,580.2 L558.7,581.3 L560.4,582.7 L561.9,584.4 L563.2,586.4 L564.2,588.6 L564.8,590.8 L565.1,593.2 L565.1,595.5 L564.6,597.7 L563.9,599.8 L562.8,601.6 L561.4,603.2 L559.8,604.4 L558.0,605.3" stroke-width="1.49"/>
<path d="M551.0,578.2 L553.0,577.7 L555.0,577.6 L557.0,578.0 L559.0,578.7 L560.9,579.8 L562.7,581.2 L564.2,582.9 L565.5,584.9 L566.5,587.1 L567.1,589.3 L567.4,591.7 L567.3,594.0 L566.9,596.2 L566.2,598.3 L565.1,600.1 L563.7,601.7 L562.1,602.9 L560.3,603.8" stroke-width="1.49"/>
<path d="M553.3,576.7 L555.2,576.2 L557.3,576.1 L559.3,576.5 L561.3,577.2 L563.2,578.3 L565.0,579.7 L566.5,581.4 L567.8,583.4 L568.7,585.6 L569.4,587.8 L569.7,590.2 L569.6,592.5 L569.2,594.7 L568.4,596.8 L567.4,598.6 L566.0,600.2 L564.4,601.4 L562.6,602.3" stroke-width="1.49"/>
<path d="M555.6,575.2 L557.5,574.7 L559.5,574.6 L561.6,575.0 L563.6,575.7 L565.5,576.8 L567.3,578.2 L568.8,579.9 L570.1,581.9 L571.0,584.1 L571.7,586.3 L572.0,588.7 L571.9,591.0 L571.5,593.2 L570.7,595.3 L569.6,597.1 L568.3,598.7 L566.7,599.9 L564.9,600.8" stroke-width="1.49"/>
<ellipse cx="537.4" cy="603.0" rx="11.5" ry="13.6" transform="rotate(-20 537.4 603.0)" fill="#fff" stroke-width="2.30"/>
<ellipse cx="538.4" cy="602.5" rx="8" ry="10" transform="rotate(-20 538.4 602.5)" stroke-width="1.49"/>
<ellipse cx="539.4" cy="602.0" rx="5" ry="6.5" transform="rotate(-20 539.4 602.0)" stroke-width="1.38"/>
<path d="M529,591 Q522,587.5 517,590.5 Q515.5,594 518,596" stroke-width="1.84"/>
<path d="M562,573 Q568,569 571,570.5 Q573,573.5 571.5,576.5" stroke-width="1.84"/>
<ellipse cx="515.2" cy="613.4" rx="7.2" ry="8.6" fill="#fff" stroke-width="2.99" transform="rotate(-20 515.2 613.4)"/>
<ellipse cx="515" cy="613.4" rx="3.8" ry="4.8" stroke-width="2.07" transform="rotate(-20 515 613.4)"/>
<path d="M510,608 L520,618 M520,608 L510,618" stroke-width="1.15"/>
<ellipse cx="426.6" cy="665.3" rx="25.3" ry="15" fill="#fff" stroke-width="2.30"/>
<ellipse cx="426.6" cy="663.2" rx="25.3" ry="14.3" fill="#fff" stroke-width="2.07"/>
<ellipse cx="426.6" cy="664.4" rx="3.6" ry="2.6" fill="#000" stroke="none"/>
<circle cx="437.4" cy="659.1" r="2" fill="#000" stroke="none"/>
<circle cx="416.9" cy="670.9" r="2" fill="#000" stroke="none"/>
</g>
<g fill="none" stroke="#000" stroke-width="1.95" stroke-linejoin="round">
<ellipse cx="226.5" cy="674.7" rx="6.8" ry="8.8" fill="#000" stroke-width="2.07" transform="rotate(-25 226.5 674.7)"/>
<ellipse cx="226.5" cy="674.7" rx="3.6" ry="5.6" stroke="#fff" stroke-width="1" transform="rotate(-25 226.5 674.7)"/>
<path d="M223,669 L229,680" stroke="#fff" stroke-width="0.8"/>
<ellipse cx="211" cy="682.8" rx="7" ry="9.3" fill="#fff" stroke-width="2.76" transform="rotate(-25 211 682.8)"/>
<ellipse cx="211.3" cy="682.6" rx="3.8" ry="5.7" stroke-width="2.07" transform="rotate(-25 211.3 682.6)"/>
<ellipse cx="211.3" cy="682.6" rx="1.6" ry="3.2" stroke-width="1.15" transform="rotate(-25 211.3 682.6)"/>
<path d="M191.5,683 L195.5,682.5 L195.8,686 L192.5,687 Q190.5,694 196,697.5 Q200,698.5 200.5,695 Q198.5,690 201,687.5 Q205.5,689 205,694 Q204,700.4 197,700.2 Q189,699 188.5,690 Z" fill="#fff" stroke-width="1.84"/>
<path d="M200,688 Q203,690 202.5,695" stroke-width="2.88"/>
<path d="M165.9,695 L176.2,690.1 Q184,691 187.7,705.9 Q187,712 184,714.4 L174.4,716.8 Q166,715 164.7,710.7 Q161,703 162.3,701 Q163,697 165.9,695 Z" fill="#fff" stroke-width="2.18"/>
<path d="M170.7,696.2 Q176,700 176.5,704 Q178,710 178,713.1" stroke-width="1.61"/>
<path d="M166,696 Q174,692 180,696" stroke-width="1.38"/>
<path d="M225,725.3 L251.5,709.8 Q254,710.5 254.5,713.8 L228,729.3" fill="#fff" stroke-width="1.95"/>
<circle cx="225.3" cy="727.4" r="3.2" fill="#fff" stroke-width="2.07"/>
<circle cx="225.3" cy="727.4" r="1.2" fill="#000" stroke="none"/>
<ellipse cx="303.5" cy="741.5" rx="6.8" ry="3.9" stroke-width="3.68"/>
<path d="M298.5,758 L298.5,773 Q299,777.5 306.3,777.5 Q314,777.5 314,773 L314,758" fill="#fff" stroke-width="2.18"/>
<path d="M298.8,766 Q306,770.5 314,766 M298.8,770 Q306,774 314,770" stroke-width="1.84"/>
<ellipse cx="305.5" cy="757.8" rx="7.8" ry="5.4" fill="#fff" stroke-width="2.18"/>
<ellipse cx="305.5" cy="756.3" rx="4.5" ry="3.4" stroke-width="1.72"/>
<path d="M303,755 L308,758 M308,755 L303,758" stroke-width="1.15"/>
<path d="M298.8,762 Q306,766 314,762" stroke-width="1.61"/>
<path d="M307,806 L311,802 L316,804.5 L317.6,820 L313,824.4 L308.5,821.5 Z" fill="#fff" stroke-width="2.76"/>
<path d="M309.5,809 L315.5,808 M311.5,811 L312.5,821" stroke-width="2.99"/>
<path d="M324.5,702 Q328,698.5 331.5,702 L332.2,722 Q328,726 324.6,722 Z" fill="#fff" stroke-width="2.07"/>
<path d="M325,706 L331.8,706 M325,710 L331.8,710 M325,715 L332,715 M325,719 L332,719" stroke-width="1.49"/>
<path d="M327,712 L327,725" stroke-width="1.84"/>
<ellipse cx="391.3" cy="720.8" rx="4.3" ry="2.4" stroke-width="2.07"/>
<path d="M389.8,735 L390,749 Q393.5,751.5 397.5,749 L397.8,735" fill="#fff" stroke-width="2.07"/>
<path d="M390,739 L397.8,738 M390,743 L397.8,742 M390,747 L397.8,746" stroke-width="1.61"/>
<ellipse cx="391.8" cy="731" rx="5" ry="4.6" fill="#000" stroke-width="1.72"/>
<path d="M394.8,758.6 L396.5,776 L393.5,776 Z" fill="#fff" stroke-width="1.84"/>
<path d="M392.8,777 Q397,774 401,777 L402.8,787 Q398,790 393.5,787.5 Z" fill="#fff" stroke-width="2.07"/>
<path d="M393,780.5 L402,780 M393.2,784 L402.5,783.5" stroke-width="1.61"/>
<ellipse cx="431.0" cy="714.0" rx="7.2" ry="2.9" fill="#fff" stroke-width="2.30"/>
<ellipse cx="431.6" cy="718.1" rx="7.2" ry="2.9" fill="#fff" stroke-width="2.30"/>
<ellipse cx="432.2" cy="722.2" rx="7.2" ry="2.9" fill="#fff" stroke-width="2.30"/>
<ellipse cx="432.8" cy="726.3" rx="7.2" ry="2.9" fill="#fff" stroke-width="2.30"/>
<ellipse cx="433.4" cy="730.4" rx="7.2" ry="2.9" fill="#fff" stroke-width="2.30"/>
<ellipse cx="434.1" cy="734.6" rx="7.2" ry="2.9" fill="#fff" stroke-width="2.30"/>
<ellipse cx="434.7" cy="738.7" rx="7.2" ry="2.9" fill="#fff" stroke-width="2.30"/>
<ellipse cx="435.3" cy="742.8" rx="7.2" ry="2.9" fill="#fff" stroke-width="2.30"/>
<ellipse cx="435.9" cy="746.9" rx="7.2" ry="2.9" fill="#fff" stroke-width="2.30"/>
<ellipse cx="436.5" cy="751.0" rx="7.2" ry="2.9" fill="#fff" stroke-width="2.30"/>
<ellipse cx="431" cy="713.8" rx="4.8" ry="1.6" fill="#fff" stroke-width="1.61"/>
<path d="M426,716 L427,720 M441,733 L442,752" stroke-width="1.15"/>
<ellipse cx="438" cy="762.6" rx="8.3" ry="5.4" fill="#fff" stroke-width="2.88"/>
<ellipse cx="437.8" cy="762.2" rx="4.2" ry="2.7" stroke-width="2.30"/>
<path d="M436.1,777 Q440,773.5 444.2,776.5 L449.3,821 L441.2,821.5 Z" fill="#fff" stroke-width="2.07"/>
<path d="M436.7,780.0 L444.6,779.2" stroke-width="1.38"/>
<path d="M437.1,783.6 L445.0,782.8" stroke-width="1.38"/>
<path d="M437.5,787.2 L445.4,786.4" stroke-width="1.38"/>
<path d="M437.9,790.8 L445.8,790.0" stroke-width="1.38"/>
<path d="M438.3,794.4 L446.2,793.6" stroke-width="1.38"/>
<path d="M438.7,798.0 L446.6,797.2" stroke-width="1.38"/>
<path d="M439.1,801.6 L447.0,800.8" stroke-width="1.38"/>
<path d="M439.5,805.2 L447.4,804.4" stroke-width="1.38"/>
<ellipse cx="445.5" cy="824" rx="6.6" ry="3.4" fill="#fff" stroke-width="2.18"/>
<path d="M441.5,828 L442,836 M449,828 L449.5,836" stroke-width="1.84"/>
<path d="M439.5,838 L439.5,846 Q441,850.5 448.5,850.5 Q457,850.5 457.3,846 L457.3,838" fill="#fff" stroke-width="2.18"/>
<ellipse cx="448.4" cy="838.5" rx="9" ry="4.5" fill="#fff" stroke-width="2.18"/>
<path d="M442,842.5 L442,849" stroke-width="1.26"/>
<path d="M445,842.5 L445,849" stroke-width="1.26"/>
<path d="M448,842.5 L448,849" stroke-width="1.26"/>
<path d="M451,842.5 L451,849" stroke-width="1.26"/>
<path d="M454,842.5 L454,849" stroke-width="1.26"/>
</g>
<g fill="none" stroke="#000" stroke-width="1.95" stroke-linejoin="round">
<path d="M340.6,837.3 L344.6,835.7 L353.5,840.5 L355.1,851.0 L314.7,873.6 L313.9,883.3 L322.0,888.2 L326.8,895.4 L325.2,901.1 L317.2,903.5 L312.3,897.9 L305.8,894.6 L294.5,895.4 L288.9,891.4 L290.5,886.5 L299.4,881.7 L299.4,872.8 L313.1,863.1 L324.4,860.7 L325.2,857.5 L339.8,848.6 Z" fill="#fff" stroke-width="2.30"/>
<path d="M341,840 L351,840.5 M341,840 L340.5,848 M351.5,841 L353,851" stroke-width="1.61"/>
<path d="M299.4,872.8 L306,876 L306.5,881 L299.4,881.7 M306,876 L313.9,873.6" stroke-width="1.49"/>
<path d="M324,858 Q326,862 329,857.5" stroke-width="1.61"/>
<ellipse cx="296.2" cy="889.8" rx="2.8" ry="2" stroke-width="1.61"/>
<ellipse cx="319.6" cy="897" rx="2.8" ry="2" stroke-width="1.61"/>
<path d="M325,934 L335.7,934 L335,937 Q330,939.2 325.5,937.5 Z" fill="#fff" stroke-width="2.07"/>
<path d="M326.5,922.5 Q329,920.5 331.5,922.5 L332,933 L326,933 Z" fill="#fff" stroke-width="1.95"/>
<path d="M326.5,925.5 L331.8,925.5 M326.5,928.5 L331.8,928.5 M326.5,931 L331.8,931" stroke-width="1.38"/>
<ellipse cx="330" cy="934" rx="5.4" ry="2.8" fill="#fff" stroke-width="2.07"/>
<ellipse cx="330" cy="934" rx="2.4" ry="1.3" fill="#000" stroke="none"/>
<path d="M346.2,950.4 L355.1,948 L359.2,955.2 L347.9,960.9 Z" fill="#fff" stroke-width="2.07"/>
<path d="M348,957 L357,952.5" stroke-width="2.88"/>
<path d="M356.7,928.5 L375.3,918.0 L383.4,923.7 L393.1,939.9 L395.5,946.3 L388.2,954.4 L372.1,957.6 L365.6,954.4 L355.1,946.3 L354.3,933.4 Z" fill="#fff" stroke-width="2.30"/>
<path d="M356.7,928.5 L367.2,926.9 L380.2,930.2 L383.4,923.7 M367.2,926.9 L375.3,918 M380.2,930.2 L386.6,949.5 L395.5,946.3 M386.6,949.5 L372.1,957.6" stroke-width="1.61"/>
<path d="M357,929 L358,931 L356,944" stroke-width="2.53"/>
<path d="M314.7,954.4 L328.5,943.9 L334.9,944.7 L346.2,954.4 L351.1,967.3 L349.5,974.6 L333.3,984.3 L326.8,985.1 L317.2,976.2 L313.1,965.7 Z" fill="#fff" stroke-width="2.30"/>
<path d="M314.7,954.4 L331,950.5 L346.2,954.4 M331,950.5 L328.5,943.9 M331,950.5 L337.5,967 L351.1,967.3 M337.5,967 L333.3,984.3" stroke-width="1.61"/>
<ellipse cx="322" cy="962" rx="3.5" ry="2.8" stroke-width="1.61"/>
<path d="M318,963 L321,966 M333,951 L334,956" stroke-width="1.49"/>
<path d="M311.3,1006.4 L339.6,990.4 L350.9,991.3 L364.1,985.7 L402.7,998.8 L402.7,1003.6 L354.6,1029.9 L347.1,1030.9 L310.4,1019.6 L308.5,1014.9 L312.2,1011.1 Z" stroke-width="2.99"/>
<path d="M314.0,1008.0 L340.0,993.5 L351.0,994.5 L364.0,989.0 L399.0,1001.0 L354.0,1026.5 L347.0,1027.5 L312.5,1017.0 L311.5,1015.0 L314.5,1012.0 Z" stroke-width="1.26"/>
<path d="M315.7,1080 L321,1087.7 L324.5,1093 Q340,1108 368.2,1114 L380.5,1112.2 L413.7,1091.2 L419,1087.7 L420.7,1068.5" fill="#fff" stroke-width="2.30"/>
<path d="M321,1087.7 Q330,1100 359.5,1108.7 M359.5,1108.7 L368.2,1114 M368,1097 L368.5,1114" stroke-width="1.61"/>
<path d="M382,1111 Q383,1100 389,1096 L391,1106 M394,1102 L398,1093 L406,1091 L410,1089" stroke-width="1.72"/>
<path d="M308.7,1070.2 L309.6,1067.6 L357.7,1040.5 L366.5,1036.1 L377,1037 L420.7,1054.5 L425.1,1058.9 L425.1,1063.2 L420.7,1070.2 L361.2,1097.4 L310.5,1079 Z" fill="#fff" stroke-width="2.30"/>
<path d="M310.5,1076.4 L363,1094.7 L370,1093 L422.5,1066.7" stroke-width="1.72"/>
<path d="M321,1072 L326.2,1064.1 L359.5,1043.1 L370,1045.7 L380.5,1041.4 L412,1054.5 L413.7,1059.7 L370,1086 L363,1087.7 L322.7,1076.4 Z" stroke-width="2.99"/>
<path d="M338.5,1075.5 L373.5,1059.7 M332,1071 Q345,1065 352,1068 Q360,1064 375,1062" stroke-width="1.38"/>
<path d="M355,1079 Q362,1073 372,1075" stroke-width="1.38"/>
<path d="M380.5,1047.5 L385,1071 M385,1046 L389.5,1069" stroke-width="1.72"/>
<path d="M383,1044.5 Q386,1045 387,1047" stroke-width="1.38"/>
<path d="M367,1088 L405,1069" stroke-width="1.26"/>
<ellipse cx="314.9" cy="1071.1" rx="2.8" ry="2" fill="#fff" stroke-width="1.72"/>
<ellipse cx="365.6" cy="1090.4" rx="2.8" ry="2" fill="#fff" stroke-width="1.72"/>
<ellipse cx="420.7" cy="1058.9" rx="2.8" ry="2" fill="#fff" stroke-width="1.72"/>
<path d="M453.1,1063.1 L458.3,1055.7 L469.4,1048 Q473,1045 476,1048 L478,1053 L476.1,1058.7 L456.1,1066.1 Z" fill="#000" stroke-width="1.72"/>
<path d="M457,1063 L459.5,1058.5 M460.5,1061.5 L463,1056 M464,1060 L466.5,1054 M467.5,1058.5 L470,1052 M471,1057 L473.5,1050.5" stroke="#fff" stroke-width="0.9"/>
<path d="M479.8,1054.6 L487.6,1054.6" stroke-width="1.84"/>
<path d="M321.7,1133.5 Q325.2,1130 328.7,1133.5 L328.7,1144 L321.7,1144 Z" fill="#fff" stroke-width="1.95"/>
<path d="M321.7,1136.5 L328.7,1136.5" stroke-width="1.38"/>
<path d="M321.7,1139.5 L328.7,1139.5" stroke-width="1.38"/>
<path d="M321.7,1142.5 L328.7,1142.5" stroke-width="1.38"/>
<path d="M319.2,1145.5 L319.2,1148 Q325.2,1151 332.0,1148 L332.0,1145.5" fill="#fff" stroke-width="2.07"/>
<ellipse cx="325.59999999999997" cy="1145.5" rx="6.4" ry="3.2" fill="#fff" stroke-width="2.07"/>
<path d="M322.7,1148.5 L322.7,1146 M328.2,1148.5 L328.2,1146" stroke-width="1.15"/>
<path d="M371.5,1138.6 Q375,1135.1 378.5,1138.6 L378.5,1149.1 L371.5,1149.1 Z" fill="#fff" stroke-width="1.95"/>
<path d="M371.5,1141.6 L378.5,1141.6" stroke-width="1.38"/>
<path d="M371.5,1144.6 L378.5,1144.6" stroke-width="1.38"/>
<path d="M371.5,1147.6 L378.5,1147.6" stroke-width="1.38"/>
<path d="M369,1150.6 L369,1153.1 Q375,1156.1 381.8,1153.1 L381.8,1150.6" fill="#fff" stroke-width="2.07"/>
<ellipse cx="375.4" cy="1150.6" rx="6.4" ry="3.2" fill="#fff" stroke-width="2.07"/>
<path d="M372.5,1153.6 L372.5,1151.1 M378,1153.6 L378,1151.1" stroke-width="1.15"/>
</g>
<g fill="none" stroke="#000" stroke-width="1.95" stroke-linejoin="round" stroke-linecap="round">
<path d="M249.8,529.8 L298.4,502.5 L353.0,519.5 L365.3,535.5 L369.3,550.6 L382.9,556.3 L388.8,565.2 L400.7,578.5 L403.6,588.9 L402.1,602.2 L397.7,611.1 L396.2,622.9 L396.2,630.3 L383.0,645.0 L367.5,649.8 L355.0,664.0 L338.5,677.2 L323.9,678.9 L305.3,670.0 L245.2,648.0 L244.4,639.2 L259.7,632.7 L258.3,609.8 L252.2,604.9 L241.3,595.3 L236.5,579.5 L240.1,565.0 L252.2,547.4 L249.8,543.2 Z" fill="#fff" stroke="none"/>
<path d="M252.2,547.4 C250.2,550.3 242.7,559.6 240.1,565.0 C237.5,570.4 236.3,574.5 236.5,579.5 C236.7,584.5 238.7,591.1 241.3,595.3 C243.9,599.5 249.4,602.5 252.2,604.9 C255.0,607.3 257.3,609.0 258.3,609.8" stroke-width="2.30"/>
<path d="M259.7,611 L259.7,632.7 L244.4,639.2 L245.2,648 L304.2,671.5 L330.4,667.5 L333.6,665.9 L330.4,657.9 L367.5,649.8" stroke-width="2.30"/>
<path d="M244.4,639.2 L304.2,663.4 L304.2,671.5 M304.2,663.4 L330.4,657.9" stroke-width="1.95"/>
<ellipse cx="250" cy="641.5" rx="2.6" ry="1.8" stroke-width="1.49"/>
<ellipse cx="304.5" cy="659.5" rx="2.3" ry="1.8" stroke-width="1.49"/>
<path d="M263,634 L270,637 M310,667 L335,659" stroke-width="1.38"/>
<path d="M323.9,671 L323.9,676.5 Q331,681 338.5,677.2 L338.5,668" fill="#fff" stroke-width="2.07"/>
<path d="M338.5,664 L338.5,676 Q346,680 353,675 L353,660" fill="#fff" stroke-width="2.07"/>
<path d="M355,655 L355,661 Q362,665 369,661 L369,652" stroke-width="1.84"/>
<path d="M369.2,650.6 L372.4,678.9" stroke-width="1.84"/>
<path d="M249.7,528.9 L297.8,501.6 L302,500.5 L307,504 L353,519.5 L365.3,535.5 L367.7,537.7 L369,548 L336.7,563 L306.6,573.5 L270,559.3 L250.7,539.3 Z" fill="#fff" stroke-width="2.30"/>
<path d="M250.7,539.3 L263.8,547.8 M249.7,528.9 L258,533 M353,519.5 L360,532 L367.7,537.7 M306.6,573.5 L306.6,567" stroke-width="1.84"/>
<ellipse cx="256" cy="532" rx="2.6" ry="1.9" fill="#000" stroke="none"/>
<ellipse cx="307.8" cy="535.5" rx="46.3" ry="28" transform="rotate(3 307.8 535.5)" fill="#fff" stroke-width="2.53"/>
<ellipse cx="308" cy="536" rx="43.6" ry="25.6" transform="rotate(3 308 536)" stroke-width="1.49"/>
<ellipse cx="308.5" cy="536.5" rx="40.8" ry="23.3" transform="rotate(3 308.5 536.5)" stroke-width="2.42"/>
<ellipse cx="309" cy="537" rx="38.3" ry="21.3" transform="rotate(3 309 537)" stroke-width="1.49"/>
<path d="M304,568 L304,575 L310,575 L310,568" fill="#000" stroke-width="1.38"/>
<path d="M273.3,529.9 Q284,522 296.3,524.7 L297.3,555.3 L276.1,547.8 Z" fill="#fff" stroke-width="2.07"/>
<path d="M274.5,535 L296.3,528 M279.5,546.5 L294.5,538.5 M280,548.5 L295,540.5" stroke-width="1.49"/>
<path d="M296.3,524.7 L301.5,537.5 L303.5,540 M301.5,537.5 L310,544 L318,539 L329,541" stroke-width="1.95"/>
<path d="M310,544 L310,558 M318,543 L318,557" stroke-width="1.61"/>
<path d="M332,519.5 L324,542 L334,549 L345,545 L344,528 M331,528 L337,538" stroke-width="1.84"/>
<path d="M325,541 Q331,544 339,546" stroke-width="2.99"/>
<path d="M299,554 L306,556 M284,553 L292,553" stroke-width="1.61"/>
<path d="M366,535.2 L371.2,551.9 L378.2,555.4 L387,561.5 L394,564.1 L400.1,572 L403.6,584.2 L404.4,590.1 L403.1,596.8 L400.4,599.5 L401,606.9 L397.7,613.6 L397.7,620.4 L396.7,628.5 L380.2,637.2" stroke-width="2.30"/>
<path d="M355.5,545.7 L369.5,539.6 M354.6,551.9 L370.4,544.9 M355.5,556.2 L371.2,549.2 M356.4,559.7 L369.5,554.5 M360.7,565.9 L369.5,561.5 M371.2,551.9 L369.5,563.2" stroke-width="1.84"/>
<path d="M346.7,559.7 Q356,562 358.1,566.7 L359.9,575.5 L352,580.7" stroke-width="1.95"/>
<path d="M352,580.7 L387,565 M352.9,584.2 L388.7,567.6 M358.1,589.5 L395.7,573.7 M361.6,592.1 L397,576 M372.1,597.5 L399.7,582 M382.2,608.9 L400.4,598.2 M383.6,619.7 L397.7,613 M384.2,624.4 L397,619 M382.2,630.1 L397,623.7" stroke-width="1.84"/>
<path d="M370.4,575 L374,573.7 L377.4,579 L373,580" stroke-width="1.72"/>
<path d="M249,564 L256,557.8 L271,571 L264,578 Z" fill="#fff" stroke-width="2.07"/>
<ellipse cx="252.5" cy="561" rx="3.2" ry="4.8" transform="rotate(-45 252.5 561)" fill="#fff" stroke-width="2.07"/>
<path d="M264,578 L271,586 M271,571 L279,577 M258,573 L270,565" stroke-width="1.72"/>
<path d="M270,583 L300,572 M276,587 L306,576" stroke-width="1.61"/>
<path d="M278.6,587.3 L287.2,613.1 M298.5,580.8 L298.5,605.6" stroke-width="1.72"/>
<path d="M252,595 Q255,590 262,592 L266,600 L258,604" fill="#fff" stroke-width="1.95"/>
<path d="M263,587 Q273,585 272,596" stroke-width="1.95"/>
<ellipse cx="254.5" cy="597.5" rx="3.5" ry="4.5" stroke-width="1.84"/>
<ellipse cx="258" cy="608" rx="3" ry="4" stroke-width="2.07"/>
<path d="M272,566 L272,582 M283,555 L283,578" stroke-width="1.61"/>
<path d="M306.6,570.1 L312,584 L341,577.6 L336.7,561.5" stroke-width="1.84"/>
<ellipse cx="315.7" cy="584.1" rx="4" ry="3.2" fill="#fff" stroke-width="1.95"/>
<circle cx="315.7" cy="584.1" r="1.3" fill="#000"/>
<path d="M285.1,621.7 L310.9,597 M289,625 L314,601" stroke-width="1.84"/>
<circle cx="286.7" cy="622.8" r="4" fill="#fff" stroke-width="2.07"/>
<circle cx="286.7" cy="622.8" r="1.5" fill="#000"/>
<path d="M305.5,604 L316,600.2 L321.7,611 L311,617.4 Z" fill="#fff" stroke-width="1.95"/>
<path d="M310,602 Q306,610 311,617" stroke-width="1.49"/>
<ellipse cx="320.6" cy="596" rx="2.6" ry="2.2" fill="#000"/>
<ellipse cx="318.4" cy="621" rx="2.6" ry="1.8" fill="#000" transform="rotate(-30 318.4 621)"/>
<path d="M318,597 Q328,605 326,615 L290,627" stroke-width="1.72"/>
<path d="M334.6,590 L340,586 L345.4,591 L340,595 Z" fill="#000" stroke-width="1.72"/>
<circle cx="338" cy="591" r="1.4" fill="#fff"/>
<path d="M345,591 L348,596 M341,580 L346,593" stroke-width="1.49"/>
<ellipse cx="299.2" cy="632.8" rx="6.2" ry="7.3" fill="#fff" stroke-width="2.53" transform="rotate(-20 299.2 632.8)"/>
<path d="M296,628 L302,637 M302,628 L296,637 M299,627 L299,638" stroke-width="1.26"/>
<path d="M298,645 L305,643.3 L307.8,652 L301,654.6 Z" fill="#fff" stroke-width="2.30"/>
<path d="M307,645 L320,640 M309,650 L322,646" stroke-width="1.49"/>
<circle cx="319" cy="637" r="1.8" fill="#000"/>
<ellipse cx="351.5" cy="632.9" rx="21" ry="27" transform="rotate(18 351.5 632.9)" fill="#fff" stroke-width="2.30"/>
<ellipse cx="355.5" cy="631.4" rx="21" ry="27" transform="rotate(18 355.5 631.4)" fill="#fff" stroke-width="2.30"/>
<ellipse cx="359.5" cy="629.9" rx="21" ry="27" transform="rotate(18 359.5 629.9)" fill="#fff" stroke-width="2.07"/>
<ellipse cx="363.5" cy="628.4" rx="20.2" ry="26.2" transform="rotate(18 363.5 628.4)" fill="#fff" stroke-width="2.53"/>
<path d="M336,658 L331,660 L333.6,665.9 L360,655" stroke-width="1.84"/>
<circle cx="275.5" cy="664.8" r="3.6" fill="#000" stroke="none"/>

<path d="M287,637 L293,641 M281,634 L285,636" stroke-width="1.49"/>
<path d="M276,610 L278.5,625 M279,599 L280.5,606" stroke-width="1.61"/>
</g>
<circle cx="449.5" cy="395.5" r="0.9" fill="#000"/>

<path d="M141.3,173.0 L141.3,228.0" fill="none" stroke="#000" stroke-width="1.6" stroke-dasharray="30 3 2.2 3"/>
<path d="M137.4,392.0 L137.4,456.0" fill="none" stroke="#000" stroke-width="1.6" stroke-dasharray="30 3 2.2 3"/>
<path d="M309.8,468.5 L309.8,533.0" fill="none" stroke="#000" stroke-width="1.6" stroke-dasharray="30 3 2.2 3"/>
<path d="M342.0,500.7 L342.0,526.6" fill="none" stroke="#000" stroke-width="1.6" stroke-dasharray="30 3 2.2 3"/>
<path d="M361.0,627.2 L410.0,653.0" fill="none" stroke="#000" stroke-width="1.6" stroke-dasharray="30 3 2.2 3"/>
<path d="M234.2,671.0 L298.8,636.2" fill="none" stroke="#000" stroke-width="1.6" stroke-dasharray="30 3 2.2 3"/>
<path d="M77.18,56.57 L78.80,56.57 L78.80,70.10 L77.18,70.10 L77.18,59.23 L73.93,61.22 L73.93,59.42 L76.36,57.81 Z" fill="#000" stroke="#000" stroke-width="0.8" stroke-linejoin="round"/>
<text transform="translate(195.22,93.90) scale(0.955,1)">5</text>
<path d="M210.40,80.37 L212.03,80.37 L212.03,93.90 L210.40,93.90 L210.40,83.03 L207.15,85.02 L207.15,83.22 L209.59,81.61 Z" fill="#000" stroke="#000" stroke-width="0.8" stroke-linejoin="round"/>
<text transform="translate(69.46,113.10) scale(0.955,1)">2</text>
<text transform="translate(70.22,157.70) scale(0.955,1)">3</text>
<text transform="translate(57.28,260.60) scale(0.955,1)">4</text>
<text transform="translate(62.92,334.60) scale(0.955,1)">5</text>
<text transform="translate(191.31,319.80) scale(0.955,1)">6</text>
<text transform="translate(200.62,346.80) scale(0.955,1)">7</text>
<text transform="translate(57.51,453.50) scale(0.955,1)">8</text>
<text transform="translate(68.84,542.10) scale(0.955,1)">9</text>
<path d="M67.38,565.17 L69.00,565.17 L69.00,578.70 L67.38,578.70 L67.38,567.83 L64.13,569.82 L64.13,568.02 L66.56,566.42 Z" fill="#000" stroke="#000" stroke-width="0.8" stroke-linejoin="round"/>
<text transform="translate(72.27,578.70) scale(0.955,1)">0</text>
<text transform="translate(303.82,120.40) scale(0.955,1)">5</text>
<text transform="translate(313.86,120.40) scale(0.955,1)">0</text>
<text transform="translate(404.78,182.50) scale(0.955,1)">4</text>
<text transform="translate(414.82,182.50) scale(0.955,1)">9</text>
<text transform="translate(367.78,324.10) scale(0.955,1)">4</text>
<text transform="translate(377.82,324.10) scale(0.955,1)">8</text>
<text transform="translate(269.18,453.60) scale(0.955,1)">4</text>
<text transform="translate(279.22,453.60) scale(0.955,1)">7</text>
<text transform="translate(324.18,453.60) scale(0.955,1)">4</text>
<text transform="translate(334.22,453.60) scale(0.955,1)">6</text>
<text transform="translate(369.38,426.80) scale(0.955,1)">4</text>
<text transform="translate(379.42,426.80) scale(0.955,1)">5</text>
<text transform="translate(406.48,411.60) scale(0.955,1)">4</text>
<text transform="translate(416.52,411.60) scale(0.955,1)">4</text>
<text transform="translate(500.68,371.40) scale(0.955,1)">4</text>
<text transform="translate(510.72,371.40) scale(0.955,1)">2</text>
<text transform="translate(451.78,395.60) scale(0.955,1)">4</text>
<text transform="translate(461.82,395.60) scale(0.955,1)">3</text>
<text transform="translate(424.78,483.10) scale(0.955,1)">4</text>
<path d="M439.96,469.57 L441.59,469.57 L441.59,483.10 L439.96,483.10 L439.96,472.23 L436.71,474.22 L436.71,472.42 L439.15,470.81 Z" fill="#000" stroke="#000" stroke-width="0.8" stroke-linejoin="round"/>
<text transform="translate(552.68,444.10) scale(0.955,1)">4</text>
<text transform="translate(562.72,444.10) scale(0.955,1)">0</text>
<text transform="translate(675.42,446.80) scale(0.955,1)">3</text>
<text transform="translate(685.46,446.80) scale(0.955,1)">8</text>
<text transform="translate(598.72,479.10) scale(0.955,1)">3</text>
<text transform="translate(608.76,479.10) scale(0.955,1)">9</text>
<text transform="translate(711.82,574.60) scale(0.955,1)">3</text>
<text transform="translate(721.86,574.60) scale(0.955,1)">7</text>
<text transform="translate(686.22,615.10) scale(0.955,1)">3</text>
<text transform="translate(696.26,615.10) scale(0.955,1)">6</text>
<text transform="translate(609.52,636.60) scale(0.955,1)">3</text>
<text transform="translate(619.56,636.60) scale(0.955,1)">5</text>
<text transform="translate(573.02,658.60) scale(0.955,1)">3</text>
<text transform="translate(583.06,658.60) scale(0.955,1)">4</text>
<path d="M533.38,666.07 L535.00,666.07 L535.00,679.60 L533.38,679.60 L533.38,668.73 L530.13,670.72 L530.13,668.92 L532.56,667.32 Z" fill="#000" stroke="#000" stroke-width="0.8" stroke-linejoin="round"/>
<path d="M543.41,666.07 L545.04,666.07 L545.04,679.60 L543.41,679.60 L543.41,668.73 L540.16,670.72 L540.16,668.92 L542.60,667.32 Z" fill="#000" stroke="#000" stroke-width="0.8" stroke-linejoin="round"/>
<text transform="translate(481.92,700.60) scale(0.955,1)">3</text>
<text transform="translate(491.96,700.60) scale(0.955,1)">3</text>
<path d="M179.88,627.07 L181.50,627.07 L181.50,640.60 L179.88,640.60 L179.88,629.73 L176.63,631.72 L176.63,629.92 L179.06,628.32 Z" fill="#000" stroke="#000" stroke-width="0.8" stroke-linejoin="round"/>
<path d="M189.91,627.07 L191.54,627.07 L191.54,640.60 L189.91,640.60 L189.91,629.73 L186.66,631.72 L186.66,629.92 L189.10,628.32 Z" fill="#000" stroke="#000" stroke-width="0.8" stroke-linejoin="round"/>
<path d="M141.68,648.07 L143.30,648.07 L143.30,661.60 L141.68,661.60 L141.68,650.73 L138.43,652.72 L138.43,650.92 L140.86,649.32 Z" fill="#000" stroke="#000" stroke-width="0.8" stroke-linejoin="round"/>
<text transform="translate(146.57,661.60) scale(0.955,1)">2</text>
<path d="M114.68,662.07 L116.30,662.07 L116.30,675.60 L114.68,675.60 L114.68,664.73 L111.43,666.72 L111.43,664.92 L113.86,663.32 Z" fill="#000" stroke="#000" stroke-width="0.8" stroke-linejoin="round"/>
<text transform="translate(119.57,675.60) scale(0.955,1)">3</text>
<path d="M107.98,714.57 L109.60,714.57 L109.60,728.10 L107.98,728.10 L107.98,717.23 L104.73,719.22 L104.73,717.42 L107.16,715.82 Z" fill="#000" stroke="#000" stroke-width="0.8" stroke-linejoin="round"/>
<text transform="translate(112.87,728.10) scale(0.955,1)">4</text>
<path d="M179.48,763.07 L181.10,763.07 L181.10,776.60 L179.48,776.60 L179.48,765.73 L176.23,767.72 L176.23,765.92 L178.66,764.32 Z" fill="#000" stroke="#000" stroke-width="0.8" stroke-linejoin="round"/>
<text transform="translate(184.37,776.60) scale(0.955,1)">5</text>
<path d="M261.58,767.07 L263.20,767.07 L263.20,780.60 L261.58,780.60 L261.58,769.73 L258.33,771.72 L258.33,769.92 L260.76,768.32 Z" fill="#000" stroke="#000" stroke-width="0.8" stroke-linejoin="round"/>
<text transform="translate(266.47,780.60) scale(0.955,1)">6</text>
<path d="M265.68,792.57 L267.30,792.57 L267.30,806.10 L265.68,806.10 L265.68,795.23 L262.43,797.22 L262.43,795.42 L264.86,793.82 Z" fill="#000" stroke="#000" stroke-width="0.8" stroke-linejoin="round"/>
<text transform="translate(270.57,806.10) scale(0.955,1)">7</text>
<text transform="translate(361.66,721.30) scale(0.955,1)">2</text>
<text transform="translate(371.69,721.30) scale(0.955,1)">9</text>
<text transform="translate(332.66,743.50) scale(0.955,1)">2</text>
<text transform="translate(342.69,743.50) scale(0.955,1)">8</text>
<text transform="translate(345.36,764.20) scale(0.955,1)">2</text>
<text transform="translate(355.39,764.20) scale(0.955,1)">7</text>
<text transform="translate(358.06,785.00) scale(0.955,1)">2</text>
<text transform="translate(368.09,785.00) scale(0.955,1)">6</text>
<text transform="translate(402.46,833.80) scale(0.955,1)">2</text>
<text transform="translate(412.49,833.80) scale(0.955,1)">5</text>
<text transform="translate(485.82,756.80) scale(0.955,1)">3</text>
<text transform="translate(495.86,756.80) scale(0.955,1)">2</text>
<text transform="translate(490.22,789.40) scale(0.955,1)">3</text>
<path d="M505.40,775.87 L507.03,775.87 L507.03,789.40 L505.40,789.40 L505.40,778.53 L502.15,780.52 L502.15,778.72 L504.59,777.12 Z" fill="#000" stroke="#000" stroke-width="0.8" stroke-linejoin="round"/>
<text transform="translate(484.22,832.30) scale(0.955,1)">3</text>
<text transform="translate(494.26,832.30) scale(0.955,1)">0</text>
<path d="M272.88,829.37 L274.50,829.37 L274.50,842.90 L272.88,842.90 L272.88,832.03 L269.63,834.02 L269.63,832.22 L272.06,830.62 Z" fill="#000" stroke="#000" stroke-width="0.8" stroke-linejoin="round"/>
<text transform="translate(277.77,842.90) scale(0.955,1)">8</text>
<path d="M296.58,923.27 L298.20,923.27 L298.20,936.80 L296.58,936.80 L296.58,925.93 L293.33,927.92 L293.33,926.12 L295.76,924.52 Z" fill="#000" stroke="#000" stroke-width="0.8" stroke-linejoin="round"/>
<text transform="translate(301.47,936.80) scale(0.955,1)">9</text>
<text transform="translate(406.06,975.30) scale(0.955,1)">2</text>
<text transform="translate(416.09,975.30) scale(0.955,1)">4</text>
<text transform="translate(251.66,1049.90) scale(0.955,1)">2</text>
<text transform="translate(261.69,1049.90) scale(0.955,1)">0</text>
<text transform="translate(462.76,1135.90) scale(0.955,1)">2</text>
<text transform="translate(472.79,1135.90) scale(0.955,1)">2</text>
<text transform="translate(497.96,1085.10) scale(0.955,1)">2</text>
<text transform="translate(507.99,1085.10) scale(0.955,1)">3</text>
<text transform="translate(269.06,1179.10) scale(0.955,1)">2</text>
<path d="M284.24,1165.57 L285.86,1165.57 L285.86,1179.10 L284.24,1179.10 L284.24,1168.23 L280.99,1170.22 L280.99,1168.42 L283.43,1166.81 Z" fill="#000" stroke="#000" stroke-width="0.8" stroke-linejoin="round"/>
</svg></body></html>
